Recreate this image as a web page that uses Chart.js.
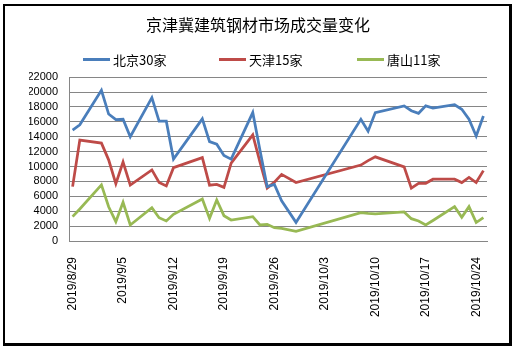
<!DOCTYPE html>
<html>
<head>
<meta charset="utf-8">
<script src="https://cdn.jsdelivr.net/npm/chart.js@4.4.1/dist/chart.umd.min.js"></script>
<style>
  html, body { margin: 0; padding: 0; background: #fff; }
  #wrap { position: relative; width: 516px; height: 349px; }
  #frame { position: absolute; left: 3px; top: 4px; width: 509px; height: 342px; box-sizing: border-box;
    border: 2px solid #000; border-right-width: 3px; border-bottom-width: 3px; pointer-events: none; }
  canvas { position: absolute; left: 0; top: 0; }
  .leg { position: absolute; top: 50px; height: 18px; display: flex; align-items: center;
    font: 13px "Noto Sans CJK SC", "Noto Sans", sans-serif; color: #000; white-space: nowrap; }
  .leg i { display: inline-block; width: 27px; height: 3px; margin-right: 3px; }
</style>
</head>
<body>
<div id="wrap">
  <canvas id="grafico" width="516" height="349"></canvas>
  <div id="legenda"></div>
  <div id="frame"></div>
</div>
<script>
// dias com dados (eixo de datas, dias sem dados ficam de fora)
const dates = ['2019/8/29', '2019/8/30', '2019/9/2', '2019/9/3', '2019/9/4', '2019/9/5', '2019/9/6',
  '2019/9/9', '2019/9/10', '2019/9/11', '2019/9/12', '2019/9/16', '2019/9/17', '2019/9/18', '2019/9/19',
  '2019/9/20', '2019/9/23', '2019/9/24', '2019/9/25', '2019/9/26', '2019/9/27', '2019/9/29', '2019/10/8',
  '2019/10/9', '2019/10/10', '2019/10/14', '2019/10/15', '2019/10/16', '2019/10/17', '2019/10/18',
  '2019/10/21', '2019/10/22', '2019/10/23', '2019/10/24', '2019/10/25']

const beijing = [14900, 15600, 20250, 17050, 16300, 16350, 14000, 19250, 16100, 16100, 11000, 16400,
  13350, 13000, 11500, 11000, 17250, 12200, 7300, 7600, 5400, 2500, 16350, 14750, 17250, 18150, 17500,
  17150, 18150, 17850, 18300, 17700, 16350, 14100, 16800]
const tianjin = [7300, 13550, 13150, 10900, 7700, 10600, 7500, 9550, 7850, 7400, 9850, 11200, 7500,
  7600, 7200, 10450, 14250, 10600, 7100, 7900, 8950, 7850, 10200, 10800, 11300, 9950, 7100, 7750, 7750,
  8300, 8300, 7850, 8550, 7850, 9450]
const tangshan = [3270, 4300, 7530, 4600, 2600, 5200, 2150, 4470, 3130, 2690, 3580, 5640, 3040, 5510,
  3400, 2820, 3270, 2150, 2240, 1790, 1700, 1300, 3800, 3700, 3650, 3900, 3000, 2690, 2150, 2750, 4610,
  3180, 4610, 2480, 3130]

const tickDates = ['2019/8/29', '2019/9/5', '2019/9/12', '2019/9/19', '2019/9/26', '2019/10/3',
  '2019/10/10', '2019/10/17', '2019/10/24']

const series = [
  { label: '北京30家', vals: beijing, cor: '#4A7EBB', left: 83 },
  { label: '天津15家', vals: tianjin, cor: '#BE4B48', left: 219 },
  { label: '唐山11家', vals: tangshan, cor: '#98B954', left: 357 }
]

const start = new Date(dates[0])
const dayOf = (d) => Math.round((new Date(d) - start) / 86400000)
const pontos = (vals) => vals.map((v, i) => ({ x: dayOf(dates[i]), y: v }))
const lastDay = dayOf(dates[dates.length - 1])

const fonteNum = 'Arial, "Liberation Sans", sans-serif'
const fonteCJK = '"Noto Sans CJK SC", "Noto Sans", sans-serif'

// legenda em HTML (espacamento largo como no original)
const legendaEl = document.getElementById('legenda')
series.forEach((s) => {
  const item = document.createElement('div')
  item.className = 'leg'
  item.style.left = s.left + 'px'
  item.innerHTML = `<i style="background:${s.cor}"></i><span>${s.label}</span>`
  legendaEl.appendChild(item)
})

const ctx = document.getElementById('grafico')

new Chart(ctx, {
  type: 'line',
  data: {
    datasets: series.map((s) => ({
      label: s.label,
      data: pontos(s.vals),
      borderColor: s.cor,
      backgroundColor: s.cor,
      borderWidth: 2.75,
      pointRadius: 0,
      tension: 0
    }))
  },
  options: {
    responsive: false,
    animation: false,
    layout: { padding: { left: 29, right: 29, top: 0, bottom: 0 } },
    plugins: {
      title: {
        display: true,
        text: '京津冀建筑钢材市场成交量变化',
        color: '#000',
        font: { family: fonteCJK, size: 16, weight: 'normal' },
        padding: { top: 15, bottom: 43 }
      },
      legend: { display: false },
      tooltip: { enabled: false }
    },
    scales: {
      x: {
        type: 'linear',
        min: -0.5,
        max: lastDay + 0.5,
        afterBuildTicks: (scale) => {
          scale.ticks = tickDates.map((d) => ({ value: dayOf(d) }))
        },
        afterFit: (scale) => { scale.height = 108 },
        ticks: {
          autoSkip: false,
          minRotation: 90,
          maxRotation: 90,
          padding: 8,
          color: '#000',
          font: { family: fonteNum, size: 12 },
          callback: (v) => tickDates.find((d) => dayOf(d) === v) || ''
        },
        grid: { display: false },
        border: { display: true, color: '#868686', width: 1 }
      },
      y: {
        min: 0,
        max: 22000,
        afterFit: (scale) => { scale.width = 40 },
        ticks: {
          stepSize: 2000,
          autoSkip: false,
          padding: 11,
          color: '#000',
          font: { family: fonteNum, size: 11 },
          callback: (v) => String(v)
        },
        grid: { color: '#868686', drawTicks: false },
        border: { display: true, color: '#868686', width: 1 }
      }
    }
  }
})
</script>
</body>
</html>
